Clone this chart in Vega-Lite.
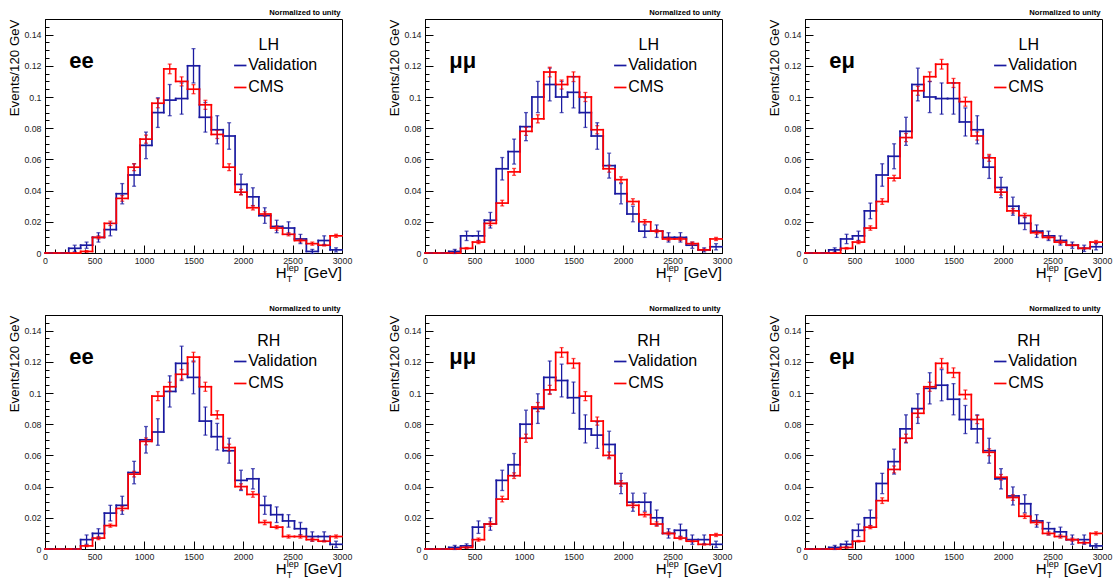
{
"$schema": "https://vega.github.io/schema/vega-lite/v6.json",
"padding": {"left": 6, "top": 8, "right": 5, "bottom": 0},
"data": {"values": [
{"ch":"ee","sd":"LH","s":"Validation","c":60,"v":0,"e":0},
{"ch":"ee","sd":"LH","s":"Validation","c":180,"v":0,"e":0},
{"ch":"ee","sd":"LH","s":"Validation","c":300,"v":0.003,"e":0.002},
{"ch":"ee","sd":"LH","s":"Validation","c":420,"v":0.005,"e":0.002},
{"ch":"ee","sd":"LH","s":"Validation","c":540,"v":0.010,"e":0.003},
{"ch":"ee","sd":"LH","s":"Validation","c":660,"v":0.015,"e":0.004},
{"ch":"ee","sd":"LH","s":"Validation","c":780,"v":0.038,"e":0.0065},
{"ch":"ee","sd":"LH","s":"Validation","c":900,"v":0.050,"e":0.0072},
{"ch":"ee","sd":"LH","s":"Validation","c":1020,"v":0.069,"e":0.0085},
{"ch":"ee","sd":"LH","s":"Validation","c":1140,"v":0.090,"e":0.0095},
{"ch":"ee","sd":"LH","s":"Validation","c":1260,"v":0.098,"e":0.01},
{"ch":"ee","sd":"LH","s":"Validation","c":1380,"v":0.099,"e":0.01},
{"ch":"ee","sd":"LH","s":"Validation","c":1500,"v":0.120,"e":0.011},
{"ch":"ee","sd":"LH","s":"Validation","c":1620,"v":0.087,"e":0.0095},
{"ch":"ee","sd":"LH","s":"Validation","c":1740,"v":0.079,"e":0.009},
{"ch":"ee","sd":"LH","s":"Validation","c":1860,"v":0.075,"e":0.0085},
{"ch":"ee","sd":"LH","s":"Validation","c":1980,"v":0.044,"e":0.0065},
{"ch":"ee","sd":"LH","s":"Validation","c":2100,"v":0.036,"e":0.0058},
{"ch":"ee","sd":"LH","s":"Validation","c":2220,"v":0.024,"e":0.005},
{"ch":"ee","sd":"LH","s":"Validation","c":2340,"v":0.017,"e":0.004},
{"ch":"ee","sd":"LH","s":"Validation","c":2460,"v":0.016,"e":0.004},
{"ch":"ee","sd":"LH","s":"Validation","c":2580,"v":0.009,"e":0.003},
{"ch":"ee","sd":"LH","s":"Validation","c":2700,"v":0.001,"e":0.0013},
{"ch":"ee","sd":"LH","s":"Validation","c":2820,"v":0.008,"e":0.003},
{"ch":"ee","sd":"LH","s":"Validation","c":2940,"v":0.002,"e":0.0013},
{"ch":"ee","sd":"LH","s":"CMS","c":60,"v":0,"e":0},
{"ch":"ee","sd":"LH","s":"CMS","c":180,"v":0,"e":0},
{"ch":"ee","sd":"LH","s":"CMS","c":300,"v":0,"e":0},
{"ch":"ee","sd":"LH","s":"CMS","c":420,"v":0.001,"e":0.0005},
{"ch":"ee","sd":"LH","s":"CMS","c":540,"v":0.010,"e":0.001},
{"ch":"ee","sd":"LH","s":"CMS","c":660,"v":0.019,"e":0.0014},
{"ch":"ee","sd":"LH","s":"CMS","c":780,"v":0.035,"e":0.0018},
{"ch":"ee","sd":"LH","s":"CMS","c":900,"v":0.055,"e":0.0022},
{"ch":"ee","sd":"LH","s":"CMS","c":1020,"v":0.073,"e":0.0026},
{"ch":"ee","sd":"LH","s":"CMS","c":1140,"v":0.096,"e":0.0029},
{"ch":"ee","sd":"LH","s":"CMS","c":1260,"v":0.118,"e":0.0031},
{"ch":"ee","sd":"LH","s":"CMS","c":1380,"v":0.110,"e":0.0029},
{"ch":"ee","sd":"LH","s":"CMS","c":1500,"v":0.105,"e":0.0029},
{"ch":"ee","sd":"LH","s":"CMS","c":1620,"v":0.095,"e":0.0029},
{"ch":"ee","sd":"LH","s":"CMS","c":1740,"v":0.076,"e":0.0026},
{"ch":"ee","sd":"LH","s":"CMS","c":1860,"v":0.055,"e":0.0022},
{"ch":"ee","sd":"LH","s":"CMS","c":1980,"v":0.039,"e":0.0018},
{"ch":"ee","sd":"LH","s":"CMS","c":2100,"v":0.029,"e":0.0014},
{"ch":"ee","sd":"LH","s":"CMS","c":2220,"v":0.025,"e":0.0014},
{"ch":"ee","sd":"LH","s":"CMS","c":2340,"v":0.016,"e":0.0014},
{"ch":"ee","sd":"LH","s":"CMS","c":2460,"v":0.012,"e":0.001},
{"ch":"ee","sd":"LH","s":"CMS","c":2580,"v":0.008,"e":0.001},
{"ch":"ee","sd":"LH","s":"CMS","c":2700,"v":0.006,"e":0.001},
{"ch":"ee","sd":"LH","s":"CMS","c":2820,"v":0.005,"e":0.0005},
{"ch":"ee","sd":"LH","s":"CMS","c":2940,"v":0.011,"e":0.001},
{"ch":"μμ","sd":"LH","s":"Validation","c":60,"v":0,"e":0},
{"ch":"μμ","sd":"LH","s":"Validation","c":180,"v":0,"e":0},
{"ch":"μμ","sd":"LH","s":"Validation","c":300,"v":0.001,"e":0.0013},
{"ch":"μμ","sd":"LH","s":"Validation","c":420,"v":0.011,"e":0.003},
{"ch":"μμ","sd":"LH","s":"Validation","c":540,"v":0.011,"e":0.003},
{"ch":"μμ","sd":"LH","s":"Validation","c":660,"v":0.021,"e":0.005},
{"ch":"μμ","sd":"LH","s":"Validation","c":780,"v":0.054,"e":0.0072},
{"ch":"μμ","sd":"LH","s":"Validation","c":900,"v":0.065,"e":0.008},
{"ch":"μμ","sd":"LH","s":"Validation","c":1020,"v":0.081,"e":0.009},
{"ch":"μμ","sd":"LH","s":"Validation","c":1140,"v":0.100,"e":0.01},
{"ch":"μμ","sd":"LH","s":"Validation","c":1260,"v":0.108,"e":0.0105},
{"ch":"μμ","sd":"LH","s":"Validation","c":1380,"v":0.100,"e":0.01},
{"ch":"μμ","sd":"LH","s":"Validation","c":1500,"v":0.103,"e":0.01},
{"ch":"μμ","sd":"LH","s":"Validation","c":1620,"v":0.090,"e":0.0095},
{"ch":"μμ","sd":"LH","s":"Validation","c":1740,"v":0.075,"e":0.0085},
{"ch":"μμ","sd":"LH","s":"Validation","c":1860,"v":0.056,"e":0.008},
{"ch":"μμ","sd":"LH","s":"Validation","c":1980,"v":0.038,"e":0.0065},
{"ch":"μμ","sd":"LH","s":"Validation","c":2100,"v":0.025,"e":0.005},
{"ch":"μμ","sd":"LH","s":"Validation","c":2220,"v":0.014,"e":0.004},
{"ch":"μμ","sd":"LH","s":"Validation","c":2340,"v":0.014,"e":0.004},
{"ch":"μμ","sd":"LH","s":"Validation","c":2460,"v":0.010,"e":0.003},
{"ch":"μμ","sd":"LH","s":"Validation","c":2580,"v":0.010,"e":0.003},
{"ch":"μμ","sd":"LH","s":"Validation","c":2700,"v":0.005,"e":0.002},
{"ch":"μμ","sd":"LH","s":"Validation","c":2820,"v":0.002,"e":0.0013},
{"ch":"μμ","sd":"LH","s":"Validation","c":2940,"v":0.004,"e":0.002},
{"ch":"μμ","sd":"LH","s":"CMS","c":60,"v":0,"e":0},
{"ch":"μμ","sd":"LH","s":"CMS","c":180,"v":0,"e":0},
{"ch":"μμ","sd":"LH","s":"CMS","c":300,"v":0,"e":0},
{"ch":"μμ","sd":"LH","s":"CMS","c":420,"v":0.003,"e":0.0005},
{"ch":"μμ","sd":"LH","s":"CMS","c":540,"v":0.007,"e":0.001},
{"ch":"μμ","sd":"LH","s":"CMS","c":660,"v":0.019,"e":0.0014},
{"ch":"μμ","sd":"LH","s":"CMS","c":780,"v":0.032,"e":0.0018},
{"ch":"μμ","sd":"LH","s":"CMS","c":900,"v":0.052,"e":0.0022},
{"ch":"μμ","sd":"LH","s":"CMS","c":1020,"v":0.078,"e":0.0026},
{"ch":"μμ","sd":"LH","s":"CMS","c":1140,"v":0.086,"e":0.0026},
{"ch":"μμ","sd":"LH","s":"CMS","c":1260,"v":0.116,"e":0.0031},
{"ch":"μμ","sd":"LH","s":"CMS","c":1380,"v":0.108,"e":0.0029},
{"ch":"μμ","sd":"LH","s":"CMS","c":1500,"v":0.113,"e":0.0031},
{"ch":"μμ","sd":"LH","s":"CMS","c":1620,"v":0.100,"e":0.0029},
{"ch":"μμ","sd":"LH","s":"CMS","c":1740,"v":0.079,"e":0.0026},
{"ch":"μμ","sd":"LH","s":"CMS","c":1860,"v":0.054,"e":0.0022},
{"ch":"μμ","sd":"LH","s":"CMS","c":1980,"v":0.047,"e":0.0018},
{"ch":"μμ","sd":"LH","s":"CMS","c":2100,"v":0.033,"e":0.0018},
{"ch":"μμ","sd":"LH","s":"CMS","c":2220,"v":0.020,"e":0.0014},
{"ch":"μμ","sd":"LH","s":"CMS","c":2340,"v":0.014,"e":0.001},
{"ch":"μμ","sd":"LH","s":"CMS","c":2460,"v":0.009,"e":0.001},
{"ch":"μμ","sd":"LH","s":"CMS","c":2580,"v":0.009,"e":0.001},
{"ch":"μμ","sd":"LH","s":"CMS","c":2700,"v":0.006,"e":0.001},
{"ch":"μμ","sd":"LH","s":"CMS","c":2820,"v":0.002,"e":0.0005},
{"ch":"μμ","sd":"LH","s":"CMS","c":2940,"v":0.009,"e":0.001},
{"ch":"eμ","sd":"LH","s":"Validation","c":60,"v":0,"e":0},
{"ch":"eμ","sd":"LH","s":"Validation","c":180,"v":0,"e":0},
{"ch":"eμ","sd":"LH","s":"Validation","c":300,"v":0.002,"e":0.0013},
{"ch":"eμ","sd":"LH","s":"Validation","c":420,"v":0.009,"e":0.003},
{"ch":"eμ","sd":"LH","s":"Validation","c":540,"v":0.011,"e":0.003},
{"ch":"eμ","sd":"LH","s":"Validation","c":660,"v":0.027,"e":0.005},
{"ch":"eμ","sd":"LH","s":"Validation","c":780,"v":0.050,"e":0.0072},
{"ch":"eμ","sd":"LH","s":"Validation","c":900,"v":0.062,"e":0.008},
{"ch":"eμ","sd":"LH","s":"Validation","c":1020,"v":0.078,"e":0.009},
{"ch":"eμ","sd":"LH","s":"Validation","c":1140,"v":0.108,"e":0.0105},
{"ch":"eμ","sd":"LH","s":"Validation","c":1260,"v":0.100,"e":0.01},
{"ch":"eμ","sd":"LH","s":"Validation","c":1380,"v":0.099,"e":0.01},
{"ch":"eμ","sd":"LH","s":"Validation","c":1500,"v":0.099,"e":0.01},
{"ch":"eμ","sd":"LH","s":"Validation","c":1620,"v":0.084,"e":0.009},
{"ch":"eμ","sd":"LH","s":"Validation","c":1740,"v":0.079,"e":0.009},
{"ch":"eμ","sd":"LH","s":"Validation","c":1860,"v":0.055,"e":0.0072},
{"ch":"eμ","sd":"LH","s":"Validation","c":1980,"v":0.042,"e":0.0065},
{"ch":"eμ","sd":"LH","s":"Validation","c":2100,"v":0.030,"e":0.0058},
{"ch":"eμ","sd":"LH","s":"Validation","c":2220,"v":0.019,"e":0.004},
{"ch":"eμ","sd":"LH","s":"Validation","c":2340,"v":0.014,"e":0.004},
{"ch":"eμ","sd":"LH","s":"Validation","c":2460,"v":0.011,"e":0.003},
{"ch":"eμ","sd":"LH","s":"Validation","c":2580,"v":0.008,"e":0.003},
{"ch":"eμ","sd":"LH","s":"Validation","c":2700,"v":0.005,"e":0.002},
{"ch":"eμ","sd":"LH","s":"Validation","c":2820,"v":0.003,"e":0.002},
{"ch":"eμ","sd":"LH","s":"Validation","c":2940,"v":0.004,"e":0.002},
{"ch":"eμ","sd":"LH","s":"CMS","c":60,"v":0,"e":0},
{"ch":"eμ","sd":"LH","s":"CMS","c":180,"v":0,"e":0},
{"ch":"eμ","sd":"LH","s":"CMS","c":300,"v":0,"e":0},
{"ch":"eμ","sd":"LH","s":"CMS","c":420,"v":0.003,"e":0.0005},
{"ch":"eμ","sd":"LH","s":"CMS","c":540,"v":0.007,"e":0.001},
{"ch":"eμ","sd":"LH","s":"CMS","c":660,"v":0.016,"e":0.0014},
{"ch":"eμ","sd":"LH","s":"CMS","c":780,"v":0.033,"e":0.0018},
{"ch":"eμ","sd":"LH","s":"CMS","c":900,"v":0.048,"e":0.0018},
{"ch":"eμ","sd":"LH","s":"CMS","c":1020,"v":0.074,"e":0.0026},
{"ch":"eμ","sd":"LH","s":"CMS","c":1140,"v":0.104,"e":0.0029},
{"ch":"eμ","sd":"LH","s":"CMS","c":1260,"v":0.113,"e":0.0031},
{"ch":"eμ","sd":"LH","s":"CMS","c":1380,"v":0.121,"e":0.0031},
{"ch":"eμ","sd":"LH","s":"CMS","c":1500,"v":0.109,"e":0.0029},
{"ch":"eμ","sd":"LH","s":"CMS","c":1620,"v":0.097,"e":0.0029},
{"ch":"eμ","sd":"LH","s":"CMS","c":1740,"v":0.075,"e":0.0026},
{"ch":"eμ","sd":"LH","s":"CMS","c":1860,"v":0.061,"e":0.0022},
{"ch":"eμ","sd":"LH","s":"CMS","c":1980,"v":0.039,"e":0.0018},
{"ch":"eμ","sd":"LH","s":"CMS","c":2100,"v":0.027,"e":0.0014},
{"ch":"eμ","sd":"LH","s":"CMS","c":2220,"v":0.024,"e":0.0014},
{"ch":"eμ","sd":"LH","s":"CMS","c":2340,"v":0.013,"e":0.001},
{"ch":"eμ","sd":"LH","s":"CMS","c":2460,"v":0.010,"e":0.001},
{"ch":"eμ","sd":"LH","s":"CMS","c":2580,"v":0.007,"e":0.001},
{"ch":"eμ","sd":"LH","s":"CMS","c":2700,"v":0.005,"e":0.0005},
{"ch":"eμ","sd":"LH","s":"CMS","c":2820,"v":0.003,"e":0.0005},
{"ch":"eμ","sd":"LH","s":"CMS","c":2940,"v":0.007,"e":0.001},
{"ch":"ee","sd":"RH","s":"Validation","c":60,"v":0,"e":0},
{"ch":"ee","sd":"RH","s":"Validation","c":180,"v":0,"e":0},
{"ch":"ee","sd":"RH","s":"Validation","c":300,"v":0,"e":0},
{"ch":"ee","sd":"RH","s":"Validation","c":420,"v":0.006,"e":0.003},
{"ch":"ee","sd":"RH","s":"Validation","c":540,"v":0.010,"e":0.003},
{"ch":"ee","sd":"RH","s":"Validation","c":660,"v":0.023,"e":0.005},
{"ch":"ee","sd":"RH","s":"Validation","c":780,"v":0.028,"e":0.0058},
{"ch":"ee","sd":"RH","s":"Validation","c":900,"v":0.049,"e":0.0072},
{"ch":"ee","sd":"RH","s":"Validation","c":1020,"v":0.070,"e":0.0085},
{"ch":"ee","sd":"RH","s":"Validation","c":1140,"v":0.075,"e":0.0085},
{"ch":"ee","sd":"RH","s":"Validation","c":1260,"v":0.101,"e":0.01},
{"ch":"ee","sd":"RH","s":"Validation","c":1380,"v":0.119,"e":0.011},
{"ch":"ee","sd":"RH","s":"Validation","c":1500,"v":0.110,"e":0.0105},
{"ch":"ee","sd":"RH","s":"Validation","c":1620,"v":0.082,"e":0.009},
{"ch":"ee","sd":"RH","s":"Validation","c":1740,"v":0.072,"e":0.0085},
{"ch":"ee","sd":"RH","s":"Validation","c":1860,"v":0.063,"e":0.008},
{"ch":"ee","sd":"RH","s":"Validation","c":1980,"v":0.044,"e":0.0065},
{"ch":"ee","sd":"RH","s":"Validation","c":2100,"v":0.045,"e":0.0065},
{"ch":"ee","sd":"RH","s":"Validation","c":2220,"v":0.028,"e":0.0058},
{"ch":"ee","sd":"RH","s":"Validation","c":2340,"v":0.022,"e":0.005},
{"ch":"ee","sd":"RH","s":"Validation","c":2460,"v":0.018,"e":0.004},
{"ch":"ee","sd":"RH","s":"Validation","c":2580,"v":0.013,"e":0.004},
{"ch":"ee","sd":"RH","s":"Validation","c":2700,"v":0.008,"e":0.003},
{"ch":"ee","sd":"RH","s":"Validation","c":2820,"v":0.008,"e":0.003},
{"ch":"ee","sd":"RH","s":"Validation","c":2940,"v":0.003,"e":0.002},
{"ch":"ee","sd":"RH","s":"CMS","c":60,"v":0,"e":0},
{"ch":"ee","sd":"RH","s":"CMS","c":180,"v":0,"e":0},
{"ch":"ee","sd":"RH","s":"CMS","c":300,"v":0,"e":0},
{"ch":"ee","sd":"RH","s":"CMS","c":420,"v":0.002,"e":0.0005},
{"ch":"ee","sd":"RH","s":"CMS","c":540,"v":0.007,"e":0.001},
{"ch":"ee","sd":"RH","s":"CMS","c":660,"v":0.015,"e":0.001},
{"ch":"ee","sd":"RH","s":"CMS","c":780,"v":0.026,"e":0.0014},
{"ch":"ee","sd":"RH","s":"CMS","c":900,"v":0.048,"e":0.0018},
{"ch":"ee","sd":"RH","s":"CMS","c":1020,"v":0.069,"e":0.0022},
{"ch":"ee","sd":"RH","s":"CMS","c":1140,"v":0.098,"e":0.0029},
{"ch":"ee","sd":"RH","s":"CMS","c":1260,"v":0.104,"e":0.0029},
{"ch":"ee","sd":"RH","s":"CMS","c":1380,"v":0.112,"e":0.0031},
{"ch":"ee","sd":"RH","s":"CMS","c":1500,"v":0.123,"e":0.0031},
{"ch":"ee","sd":"RH","s":"CMS","c":1620,"v":0.104,"e":0.0029},
{"ch":"ee","sd":"RH","s":"CMS","c":1740,"v":0.086,"e":0.0026},
{"ch":"ee","sd":"RH","s":"CMS","c":1860,"v":0.065,"e":0.0022},
{"ch":"ee","sd":"RH","s":"CMS","c":1980,"v":0.040,"e":0.0018},
{"ch":"ee","sd":"RH","s":"CMS","c":2100,"v":0.035,"e":0.0018},
{"ch":"ee","sd":"RH","s":"CMS","c":2220,"v":0.017,"e":0.0014},
{"ch":"ee","sd":"RH","s":"CMS","c":2340,"v":0.014,"e":0.001},
{"ch":"ee","sd":"RH","s":"CMS","c":2460,"v":0.008,"e":0.001},
{"ch":"ee","sd":"RH","s":"CMS","c":2580,"v":0.008,"e":0.001},
{"ch":"ee","sd":"RH","s":"CMS","c":2700,"v":0.006,"e":0.001},
{"ch":"ee","sd":"RH","s":"CMS","c":2820,"v":0.005,"e":0.0005},
{"ch":"ee","sd":"RH","s":"CMS","c":2940,"v":0.008,"e":0.001},
{"ch":"μμ","sd":"RH","s":"Validation","c":60,"v":0,"e":0},
{"ch":"μμ","sd":"RH","s":"Validation","c":180,"v":0,"e":0},
{"ch":"μμ","sd":"RH","s":"Validation","c":300,"v":0.001,"e":0.0013},
{"ch":"μμ","sd":"RH","s":"Validation","c":420,"v":0.002,"e":0.0013},
{"ch":"μμ","sd":"RH","s":"Validation","c":540,"v":0.014,"e":0.004},
{"ch":"μμ","sd":"RH","s":"Validation","c":660,"v":0.016,"e":0.004},
{"ch":"μμ","sd":"RH","s":"Validation","c":780,"v":0.044,"e":0.0065},
{"ch":"μμ","sd":"RH","s":"Validation","c":900,"v":0.054,"e":0.0072},
{"ch":"μμ","sd":"RH","s":"Validation","c":1020,"v":0.080,"e":0.009},
{"ch":"μμ","sd":"RH","s":"Validation","c":1140,"v":0.090,"e":0.0095},
{"ch":"μμ","sd":"RH","s":"Validation","c":1260,"v":0.110,"e":0.0105},
{"ch":"μμ","sd":"RH","s":"Validation","c":1380,"v":0.108,"e":0.0105},
{"ch":"μμ","sd":"RH","s":"Validation","c":1500,"v":0.097,"e":0.01},
{"ch":"μμ","sd":"RH","s":"Validation","c":1620,"v":0.077,"e":0.009},
{"ch":"μμ","sd":"RH","s":"Validation","c":1740,"v":0.073,"e":0.0085},
{"ch":"μμ","sd":"RH","s":"Validation","c":1860,"v":0.067,"e":0.0085},
{"ch":"μμ","sd":"RH","s":"Validation","c":1980,"v":0.042,"e":0.0065},
{"ch":"μμ","sd":"RH","s":"Validation","c":2100,"v":0.030,"e":0.0058},
{"ch":"μμ","sd":"RH","s":"Validation","c":2220,"v":0.030,"e":0.0058},
{"ch":"μμ","sd":"RH","s":"Validation","c":2340,"v":0.020,"e":0.005},
{"ch":"μμ","sd":"RH","s":"Validation","c":2460,"v":0.010,"e":0.003},
{"ch":"μμ","sd":"RH","s":"Validation","c":2580,"v":0.012,"e":0.004},
{"ch":"μμ","sd":"RH","s":"Validation","c":2700,"v":0.006,"e":0.003},
{"ch":"μμ","sd":"RH","s":"Validation","c":2820,"v":0.006,"e":0.003},
{"ch":"μμ","sd":"RH","s":"Validation","c":2940,"v":0.003,"e":0.002},
{"ch":"μμ","sd":"RH","s":"CMS","c":60,"v":0,"e":0},
{"ch":"μμ","sd":"RH","s":"CMS","c":180,"v":0,"e":0},
{"ch":"μμ","sd":"RH","s":"CMS","c":300,"v":0,"e":0},
{"ch":"μμ","sd":"RH","s":"CMS","c":420,"v":0.001,"e":0.0005},
{"ch":"μμ","sd":"RH","s":"CMS","c":540,"v":0.006,"e":0.001},
{"ch":"μμ","sd":"RH","s":"CMS","c":660,"v":0.016,"e":0.0014},
{"ch":"μμ","sd":"RH","s":"CMS","c":780,"v":0.032,"e":0.0018},
{"ch":"μμ","sd":"RH","s":"CMS","c":900,"v":0.047,"e":0.0018},
{"ch":"μμ","sd":"RH","s":"CMS","c":1020,"v":0.071,"e":0.0026},
{"ch":"μμ","sd":"RH","s":"CMS","c":1140,"v":0.091,"e":0.0029},
{"ch":"μμ","sd":"RH","s":"CMS","c":1260,"v":0.102,"e":0.0029},
{"ch":"μμ","sd":"RH","s":"CMS","c":1380,"v":0.126,"e":0.0031},
{"ch":"μμ","sd":"RH","s":"CMS","c":1500,"v":0.119,"e":0.0031},
{"ch":"μμ","sd":"RH","s":"CMS","c":1620,"v":0.098,"e":0.0029},
{"ch":"μμ","sd":"RH","s":"CMS","c":1740,"v":0.082,"e":0.0026},
{"ch":"μμ","sd":"RH","s":"CMS","c":1860,"v":0.060,"e":0.0022},
{"ch":"μμ","sd":"RH","s":"CMS","c":1980,"v":0.042,"e":0.0018},
{"ch":"μμ","sd":"RH","s":"CMS","c":2100,"v":0.028,"e":0.0014},
{"ch":"μμ","sd":"RH","s":"CMS","c":2220,"v":0.022,"e":0.0014},
{"ch":"μμ","sd":"RH","s":"CMS","c":2340,"v":0.016,"e":0.0014},
{"ch":"μμ","sd":"RH","s":"CMS","c":2460,"v":0.010,"e":0.001},
{"ch":"μμ","sd":"RH","s":"CMS","c":2580,"v":0.007,"e":0.001},
{"ch":"μμ","sd":"RH","s":"CMS","c":2700,"v":0.005,"e":0.0005},
{"ch":"μμ","sd":"RH","s":"CMS","c":2820,"v":0.003,"e":0.0005},
{"ch":"μμ","sd":"RH","s":"CMS","c":2940,"v":0.009,"e":0.001},
{"ch":"eμ","sd":"RH","s":"Validation","c":60,"v":0,"e":0},
{"ch":"eμ","sd":"RH","s":"Validation","c":180,"v":0,"e":0},
{"ch":"eμ","sd":"RH","s":"Validation","c":300,"v":0.001,"e":0.0013},
{"ch":"eμ","sd":"RH","s":"Validation","c":420,"v":0.003,"e":0.002},
{"ch":"eμ","sd":"RH","s":"Validation","c":540,"v":0.012,"e":0.004},
{"ch":"eμ","sd":"RH","s":"Validation","c":660,"v":0.020,"e":0.005},
{"ch":"eμ","sd":"RH","s":"Validation","c":780,"v":0.042,"e":0.0065},
{"ch":"eμ","sd":"RH","s":"Validation","c":900,"v":0.056,"e":0.008},
{"ch":"eμ","sd":"RH","s":"Validation","c":1020,"v":0.077,"e":0.009},
{"ch":"eμ","sd":"RH","s":"Validation","c":1140,"v":0.090,"e":0.0095},
{"ch":"eμ","sd":"RH","s":"Validation","c":1260,"v":0.103,"e":0.01},
{"ch":"eμ","sd":"RH","s":"Validation","c":1380,"v":0.105,"e":0.01},
{"ch":"eμ","sd":"RH","s":"Validation","c":1500,"v":0.096,"e":0.01},
{"ch":"eμ","sd":"RH","s":"Validation","c":1620,"v":0.083,"e":0.009},
{"ch":"eμ","sd":"RH","s":"Validation","c":1740,"v":0.077,"e":0.009},
{"ch":"eμ","sd":"RH","s":"Validation","c":1860,"v":0.063,"e":0.008},
{"ch":"eμ","sd":"RH","s":"Validation","c":1980,"v":0.045,"e":0.0065},
{"ch":"eμ","sd":"RH","s":"Validation","c":2100,"v":0.034,"e":0.0058},
{"ch":"eμ","sd":"RH","s":"Validation","c":2220,"v":0.029,"e":0.0058},
{"ch":"eμ","sd":"RH","s":"Validation","c":2340,"v":0.018,"e":0.004},
{"ch":"eμ","sd":"RH","s":"Validation","c":2460,"v":0.013,"e":0.004},
{"ch":"eμ","sd":"RH","s":"Validation","c":2580,"v":0.011,"e":0.003},
{"ch":"eμ","sd":"RH","s":"Validation","c":2700,"v":0.006,"e":0.003},
{"ch":"eμ","sd":"RH","s":"Validation","c":2820,"v":0.006,"e":0.003},
{"ch":"eμ","sd":"RH","s":"Validation","c":2940,"v":0.002,"e":0.0013},
{"ch":"eμ","sd":"RH","s":"CMS","c":60,"v":0,"e":0},
{"ch":"eμ","sd":"RH","s":"CMS","c":180,"v":0,"e":0},
{"ch":"eμ","sd":"RH","s":"CMS","c":300,"v":0,"e":0},
{"ch":"eμ","sd":"RH","s":"CMS","c":420,"v":0.001,"e":0.0005},
{"ch":"eμ","sd":"RH","s":"CMS","c":540,"v":0.005,"e":0.0005},
{"ch":"eμ","sd":"RH","s":"CMS","c":660,"v":0.014,"e":0.001},
{"ch":"eμ","sd":"RH","s":"CMS","c":780,"v":0.031,"e":0.0018},
{"ch":"eμ","sd":"RH","s":"CMS","c":900,"v":0.051,"e":0.0022},
{"ch":"eμ","sd":"RH","s":"CMS","c":1020,"v":0.071,"e":0.0026},
{"ch":"eμ","sd":"RH","s":"CMS","c":1140,"v":0.087,"e":0.0026},
{"ch":"eμ","sd":"RH","s":"CMS","c":1260,"v":0.104,"e":0.0029},
{"ch":"eμ","sd":"RH","s":"CMS","c":1380,"v":0.119,"e":0.0031},
{"ch":"eμ","sd":"RH","s":"CMS","c":1500,"v":0.113,"e":0.0031},
{"ch":"eμ","sd":"RH","s":"CMS","c":1620,"v":0.099,"e":0.0029},
{"ch":"eμ","sd":"RH","s":"CMS","c":1740,"v":0.083,"e":0.0026},
{"ch":"eμ","sd":"RH","s":"CMS","c":1860,"v":0.062,"e":0.0022},
{"ch":"eμ","sd":"RH","s":"CMS","c":1980,"v":0.046,"e":0.0018},
{"ch":"eμ","sd":"RH","s":"CMS","c":2100,"v":0.033,"e":0.0018},
{"ch":"eμ","sd":"RH","s":"CMS","c":2220,"v":0.021,"e":0.0014},
{"ch":"eμ","sd":"RH","s":"CMS","c":2340,"v":0.017,"e":0.0014},
{"ch":"eμ","sd":"RH","s":"CMS","c":2460,"v":0.010,"e":0.001},
{"ch":"eμ","sd":"RH","s":"CMS","c":2580,"v":0.008,"e":0.001},
{"ch":"eμ","sd":"RH","s":"CMS","c":2700,"v":0.006,"e":0.001},
{"ch":"eμ","sd":"RH","s":"CMS","c":2820,"v":0.004,"e":0.0005},
{"ch":"eμ","sd":"RH","s":"CMS","c":2940,"v":0.010,"e":0.001}
]},
"transform": [
  {"bin": {"step": 120, "extent": [0, 3000]}, "field": "c", "as": ["lo", "hi"]},
  {"window": [{"op": "lag", "field": "v", "as": "pv"}], "groupby": ["ch", "sd", "s"], "sort": [{"field": "c", "order": "ascending"}]}
],
"facet": {
  "row": {"field": "sd", "type": "nominal", "header": null},
  "column": {"field": "ch", "type": "nominal", "sort": ["ee", "μμ", "eμ"], "header": null}
},
"spacing": {"row": 62, "column": 83},
"bounds": "flush",
"resolve": {"axis": {"x": "independent", "y": "independent"}},
"spec": {
  "width": 297,
  "height": 234,
  "resolve": {"axis": {"x": "independent", "y": "independent"}},
  "layer": [
    {
      "mark": {"type": "rule", "strokeWidth": 1.7, "strokeCap": "square"},
      "encoding": {
        "x": {"field": "lo", "type": "quantitative", "scale": {"domain": [0, 3000], "nice": false},
          "axis": {"orient": "bottom", "values": [0,500,1000,1500,2000,2500,3000], "format": "d",
            "tickSize": -8, "title": null, "grid": false, "labelFlush": false, "labelOverlap": false, "labelBound": false,
            "labelFontSize": 8.8, "labelPadding": 11, "domainColor": "black", "tickColor": "black"}},
        "x2": {"field": "hi"},
        "y": {"field": "v", "type": "quantitative", "scale": {"domain": [0, 0.15], "nice": false},
          "axis": {"orient": "left", "values": [0,0.02,0.04,0.06,0.08,0.1,0.12,0.14], "format": ".2~f",
            "tickSize": -8,
            "title": "Events/120 GeV", "titleAnchor": "end", "titleFontSize": 13.3, "titleFontWeight": "normal", "titleColor": "black",
            "titleX": -24, "titleBaseline": "bottom",
            "grid": false, "labelOverlap": false, "labelBound": false, "labelFlush": false,
            "labelFontSize": 8.8, "labelPadding": 12, "domainColor": "black", "tickColor": "black"}},
        "color": {"field": "s", "type": "nominal", "scale": {"domain": ["Validation", "CMS"], "range": ["#1a1aa0", "#ff0000"]}, "legend": null}
      }
    },
    {
      "mark": {"type": "rule", "strokeWidth": 1.7, "strokeCap": "square"},
      "encoding": {
        "x": {"field": "lo", "type": "quantitative", "scale": {"domain": [0, 3000], "nice": false},
          "axis": {"orient": "bottom", "values": [100,200,300,400,600,700,800,900,1100,1200,1300,1400,1600,1700,1800,1900,2100,2200,2300,2400,2600,2700,2800,2900],
            "labels": false, "domain": false, "tickSize": -4, "title": null, "grid": false, "tickColor": "black"}},
        "y": {"field": "pv", "type": "quantitative", "scale": {"domain": [0, 0.15], "nice": false},
          "axis": {"orient": "left", "values": [0.005,0.01,0.015,0.025,0.03,0.035,0.045,0.05,0.055,0.065,0.07,0.075,0.085,0.09,0.095,0.105,0.11,0.115,0.125,0.13,0.135,0.145,0.15],
            "labels": false, "domain": false, "tickSize": -4, "title": null, "grid": false, "tickColor": "black"}},
        "y2": {"field": "v"},
        "color": {"field": "s", "type": "nominal", "legend": null}
      }
    },
    {
      "mark": {"type": "errorbar", "ticks": {"size": 4}, "thickness": 1.3},
      "encoding": {
        "x": {"field": "c", "type": "quantitative", "axis": null},
        "y": {"field": "v", "type": "quantitative", "axis": null},
        "yError": {"field": "e"},
        "color": {"field": "s", "type": "nominal", "legend": null}
      }
    },
    {
      "transform": [{"filter": "datum.c == 60 && datum.s == 'Validation'"}],
      "mark": {"type": "text", "fontSize": 22, "fontWeight": "bold", "align": "left", "baseline": "alphabetic"},
      "encoding": {"x": {"datum": 245, "axis": null}, "y": {"datum": 0.1184, "axis": null}, "text": {"field": "ch"}}
    },
    {
      "transform": [{"filter": "datum.c == 60 && datum.s == 'Validation'"}],
      "mark": {"type": "text", "fontSize": 16, "align": "center", "baseline": "middle"},
      "encoding": {"x": {"datum": 2261, "axis": null}, "y": {"datum": 0.1332, "axis": null}, "text": {"field": "sd"}}
    },
    {
      "transform": [{"filter": "datum.c == 60 && datum.s == 'Validation'"}],
      "mark": {"type": "rule", "strokeWidth": 1.7},
      "encoding": {"x": {"datum": 1910, "axis": null}, "x2": {"datum": 2035}, "y": {"datum": 0.1202, "axis": null}, "color": {"field": "s", "type": "nominal", "legend": null}}
    },
    {
      "transform": [{"filter": "datum.c == 60 && datum.s == 'Validation'"}],
      "mark": {"type": "text", "fontSize": 16, "align": "left", "baseline": "middle"},
      "encoding": {"x": {"datum": 2052, "axis": null}, "y": {"datum": 0.1202, "axis": null}, "text": {"field": "s"}}
    },
    {
      "transform": [{"filter": "datum.c == 60 && datum.s == 'CMS'"}],
      "mark": {"type": "rule", "strokeWidth": 1.7},
      "encoding": {"x": {"datum": 1910, "axis": null}, "x2": {"datum": 2035}, "y": {"datum": 0.1061, "axis": null}, "color": {"field": "s", "type": "nominal", "legend": null}}
    },
    {
      "transform": [{"filter": "datum.c == 60 && datum.s == 'CMS'"}],
      "mark": {"type": "text", "fontSize": 16, "align": "left", "baseline": "middle"},
      "encoding": {"x": {"datum": 2052, "axis": null}, "y": {"datum": 0.1061, "axis": null}, "text": {"field": "s"}}
    },
    {
      "transform": [{"filter": "datum.c == 60 && datum.s == 'Validation'"}],
      "mark": {"type": "text", "fontSize": 7.7, "fontWeight": "bold", "align": "right", "baseline": "alphabetic", "text": "Normalized to unity"},
      "encoding": {"x": {"datum": 2985, "axis": null}, "y": {"datum": 0.1527, "axis": null}}
    },
    {
      "transform": [{"filter": "datum.c == 60 && datum.s == 'Validation'"}],
      "mark": {"type": "text", "fontSize": 15, "align": "right", "baseline": "alphabetic", "text": "H"},
      "encoding": {"x": {"datum": 2440, "axis": null}, "y": {"datum": -0.016, "axis": null}}
    },
    {
      "transform": [{"filter": "datum.c == 60 && datum.s == 'Validation'"}],
      "mark": {"type": "text", "fontSize": 9, "align": "left", "baseline": "alphabetic", "text": "T"},
      "encoding": {"x": {"datum": 2442, "axis": null}, "y": {"datum": -0.0183, "axis": null}}
    },
    {
      "transform": [{"filter": "datum.c == 60 && datum.s == 'Validation'"}],
      "mark": {"type": "text", "fontSize": 9, "align": "left", "baseline": "alphabetic", "text": "lep"},
      "encoding": {"x": {"datum": 2442, "axis": null}, "y": {"datum": -0.0118, "axis": null}}
    },
    {
      "transform": [{"filter": "datum.c == 60 && datum.s == 'Validation'"}],
      "mark": {"type": "text", "fontSize": 15, "align": "right", "baseline": "alphabetic", "text": "[GeV]"},
      "encoding": {"x": {"datum": 3000, "axis": null}, "y": {"datum": -0.016, "axis": null}}
    }
  ]
},
"config": {
  "view": {"stroke": "black", "strokeWidth": 1},
  "font": "Liberation Sans",
  "axis": {"labelColor": "#222", "labelFont": "Liberation Sans", "titleFont": "Liberation Sans"}
}
}
